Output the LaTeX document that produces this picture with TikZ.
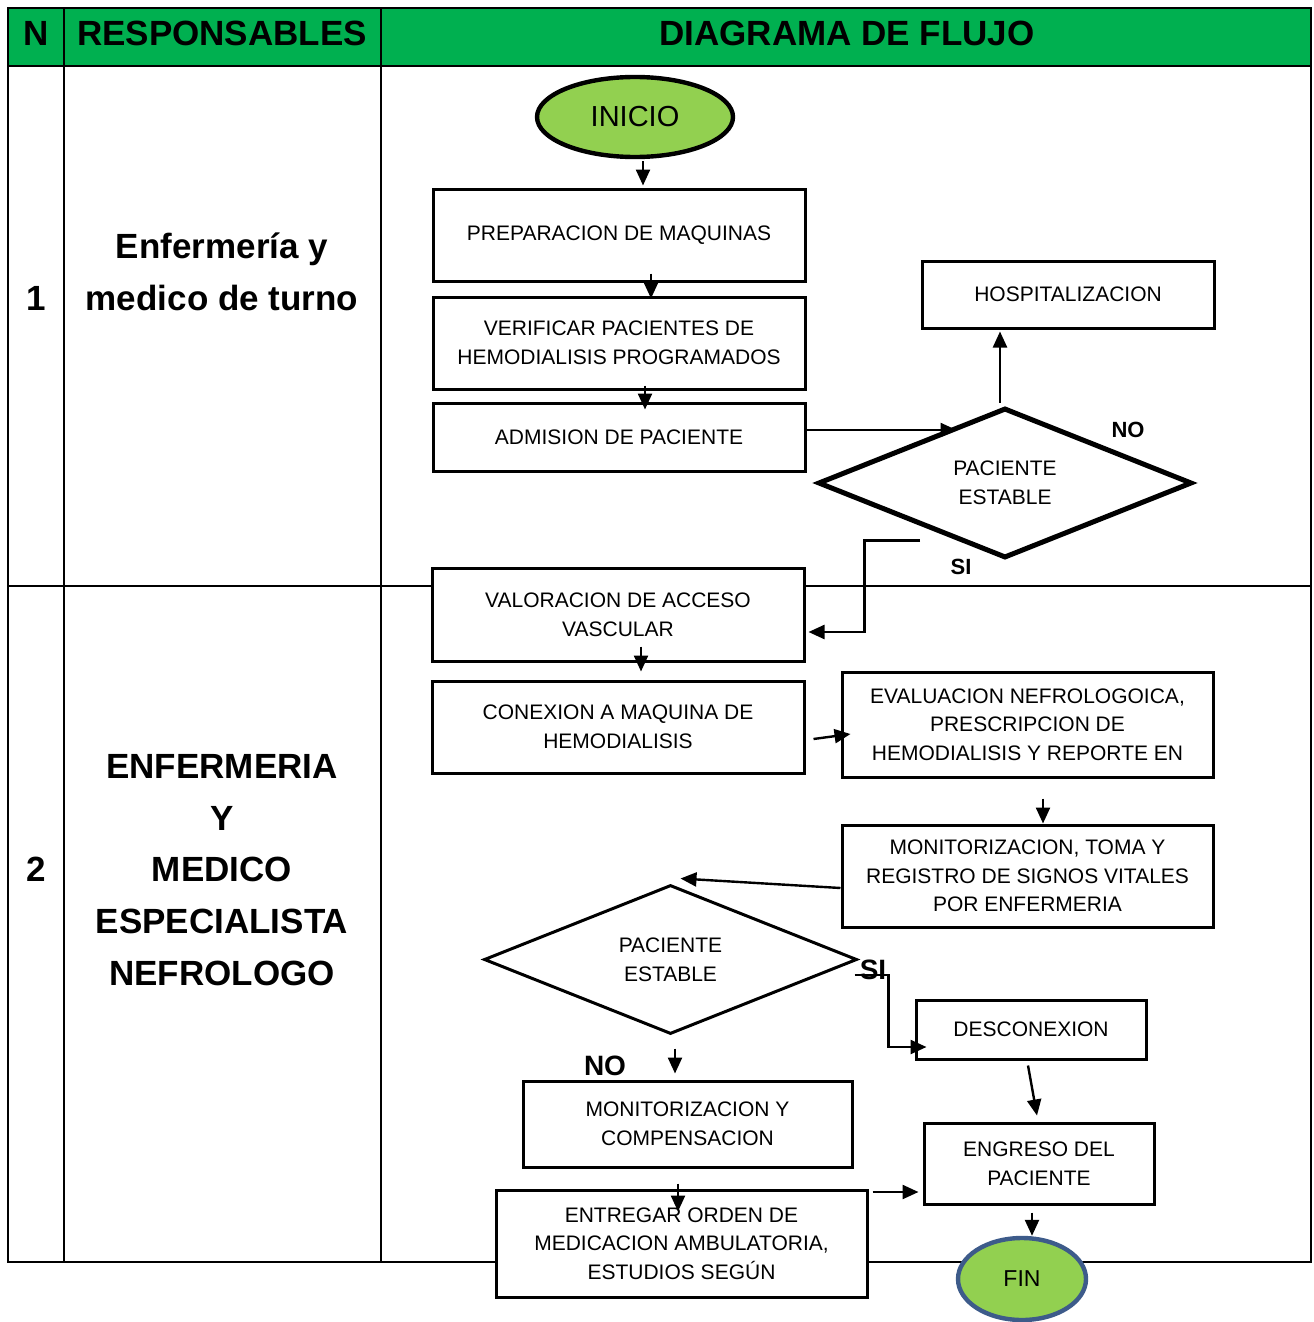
\documentclass[tikz,border=0pt]{standalone}
\usepackage{fontspec}
\setmainfont{Liberation Sans}
\usetikzlibrary{
	shapes,
	calc,
	arrows.meta}

\definecolor{verdecab}{RGB}{0,176,80}
\definecolor{verdeclaro}{RGB}{146,208,80}
\definecolor{azulborde}{RGB}{61,91,138}

\begin{document}
\begin{tikzpicture}[x=0.5pt,y=-0.5pt,every text node part/.style={align=center}]
  \tikzstyle{caja}=[rectangle,draw,line width=1.5pt,fill=white,inner sep=2pt,
    font=\fontsize{10.5}{14.3}\selectfont]
  \tikzstyle{decision}=[diamond,draw,fill=white,inner sep=0pt,
    minimum width=187pt,minimum height=75pt,font=\fontsize{10.5}{14.3}\selectfont]
  \tikzstyle{terminal}=[ellipse,draw,fill=verdeclaro,line width=2.2pt,inner sep=0pt]
  \tikzstyle{flecha}=[line width=1.2pt,-{Triangle[length=8pt,width=7pt]}]
  \tikzstyle{tabla}=[line width=1pt]
  \tikzstyle{encab}=[font=\fontsize{17.5}{21}\selectfont\bfseries]
  \tikzstyle{resp}=[font=\fontsize{17.5}{25.8}\selectfont\bfseries]
  \tikzstyle{etiq}=[font=\fontsize{11}{13}\selectfont\bfseries,inner sep=0pt]
  \tikzstyle{etiqg}=[font=\fontsize{14}{16}\selectfont\bfseries,inner sep=0pt]

  \useasboundingbox (0,0) rectangle (1313,1322);
  \fill[verdecab] (8,8) rectangle (1311,66);
  \draw[tabla] (8,8) rectangle (1311,1262);
  \draw[tabla] (8,66) -- (1311,66);
  \draw[tabla] (8,586) -- (1311,586);
  \draw[tabla] (64,8) -- (64,1262);
  \draw[tabla] (381,8) -- (381,1262);

  \node [encab] (hn) at (36,33) {N};
  \node [encab] (hresp) at (222,33) {RESPONSABLES};
  \node [encab] (hdiag) at (847,33) {DIAGRAMA DE FLUJO};

  \node [resp] (n1) at (36,298) {1};
  \node [resp] (r1) at (222,272) {Enfermería y\\medico de turno};
  \node [resp] (n2) at (36,869) {2};
  \node [resp] (r2) at (222,870) {
    ENFERMERIA\\
    Y\\
    MEDICO\\
    ESPECIALISTA\\
    NEFROLOGO};

  \node [terminal,minimum width=98pt,minimum height=40pt,
    font=\fontsize{14.5}{16}\selectfont] (inicio) at (635,117) {INICIO};
  \node [caja,minimum width=186pt,minimum height=46pt] (prep) at (619,235) {PREPARACION DE MAQUINAS};
  \node [caja,minimum width=186pt,minimum height=46pt] (verif) at (619,343) {
    VERIFICAR PACIENTES DE\\
    HEMODIALISIS PROGRAMADOS};
  \node [caja,minimum width=186pt,minimum height=34pt] (adm) at (619,437) {ADMISION DE PACIENTE};
  \node [caja,minimum width=146pt,minimum height=33.5pt] (hosp) at (1068,294.5) {HOSPITALIZACION};
  \node [decision,line width=2.5pt] (dec1) at (1005,483) {PACIENTE\\ESTABLE};

  \node [caja,minimum width=186pt,minimum height=46.5pt] (valor) at (618,614.5) {
    VALORACION DE ACCESO\\
    VASCULAR};
  \node [caja,minimum width=186pt,minimum height=46pt] (conex) at (618,727) {
    CONEXION A MAQUINA DE\\
    HEMODIALISIS};
  \node [caja,minimum width=185.5pt,minimum height=52.5pt] (eval) at (1027.5,724.5) {
    EVALUACION NEFROLOGOICA,\\
    PRESCRIPCION DE\\
    HEMODIALISIS Y REPORTE EN};
  \node [caja,minimum width=185.5pt,minimum height=51pt] (mon) at (1027.5,876) {
    MONITORIZACION, TOMA Y\\
    REGISTRO DE SIGNOS VITALES\\
    POR ENFERMERIA};
  \node [decision,line width=1.5pt,minimum width=186.5pt,minimum height=74.5pt] (dec2) at (670.5,959.5) {PACIENTE\\ESTABLE};
  \node [caja,minimum width=115pt,minimum height=29.5pt] (desc) at (1031,1029.5) {DESCONEXION};
  \node [caja,minimum width=164.5pt,minimum height=43pt] (moncomp) at (687.5,1124) {
    MONITORIZACION Y\\
    COMPENSACION};
  \node [caja,minimum width=115pt,minimum height=40.5pt] (engreso) at (1039,1163.5) {
    ENGRESO DEL\\
    PACIENTE};
  \node [caja,minimum width=185.5pt,minimum height=53.5pt] (entregar) at (681.5,1243.5) {
    ENTREGAR ORDEN DE\\
    MEDICACION AMBULATORIA,\\
    ESTUDIOS SEGÚN};
  \node [terminal,draw=azulborde,minimum width=64pt,minimum height=41pt,
    font=\fontsize{11.5}{13}\selectfont] (fin) at (1022,1279) {FIN};

  \draw[flecha] ($(inicio.south)+(8,2)$) -- ($(prep.north)+(24,-2)$);
  \draw[flecha] ($(prep.south)+(32,-9)$) -- ($(verif.north)+(32,3)$);
  \draw[flecha] ($(verif.south)+(26,-5)$) -- ($(adm.north)+(26,8)$);
  \draw[flecha] ($(adm.east)+(0,-7)$) -- ($(adm.east)+(150,-7)$);
  \draw[flecha] ($(dec1.north)+(-5,-3)$) -- ($(dec1.north |- hosp.south)+(-5,2)$);
  \draw[flecha] ($(dec1.south)+(-85,-20)$) -| ($(valor.east)+(59,17.5)$) -- ($(valor.east)+(3,17.5)$);
  \draw[flecha] ($(valor.south)+(23,-16)$) -- ($(conex.north)+(23,-8)$);
  \draw[flecha] ($(conex.east)+(8,12)$) -- ($(eval.west)+(10,9.5)$);
  \draw[flecha] ($(eval.south)+(15.5,20)$) -- ($(mon.north)+(15.5,0)$);
  \draw[flecha] ($(mon.west)+(0,12)$) -- ($(dec2.north)+(10,-5)$);
  \draw[flecha] ($(dec2.east)+(-4,15.5)$) -| ($(desc.west)+(-26,17.5)$) -- ($(desc.west)+(12,17.5)$);
  \draw[flecha] ($(dec2.south)+(4.5,13)$) -- ($(moncomp.north)+(-12.5,-6)$);
  \draw[flecha] ($(moncomp.south)+(-9.5,15)$) -- ($(entregar.north)+(-3.5,23)$);
  \draw[flecha] ($(entregar.east)+(4,-51.5)$) -- ($(engreso.west)+(-4,28.5)$);
  \draw[flecha] ($(desc.south)+(-3,5)$) -- ($(engreso.north)+(-2,-6)$);
  \draw[flecha] ($(engreso.south)+(-7,7)$) -- ($(fin.north)+(10,0)$);

  \node [etiq] (no1) at (1128,430) {NO};
  \node [etiq] (si1) at (961,567) {SI};
  \node [etiqg] (si2) at (873,970) {SI};
  \node [etiqg] (no2) at (605,1066) {NO};
\end{tikzpicture}
\end{document}
